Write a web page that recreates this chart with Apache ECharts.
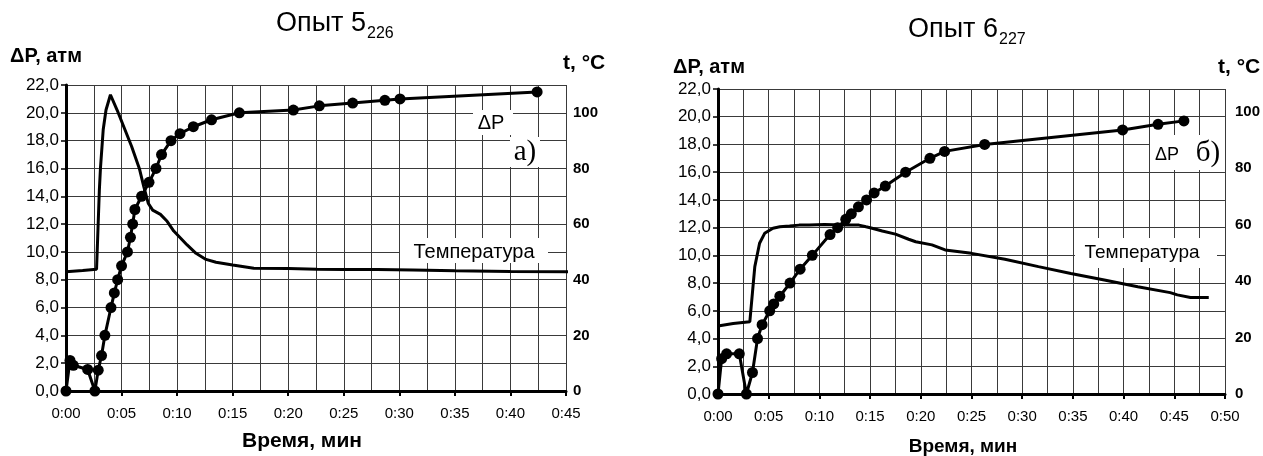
<!DOCTYPE html>
<html>
<head>
<meta charset="utf-8">
<script src="https://cdn.jsdelivr.net/npm/echarts@6/dist/echarts.min.js"></script>
<style>
html,body{margin:0;padding:0;background:#fff;}
#c{width:1263px;height:456px;}
</style>
</head>
<body>
<div id="c"></div>
<script>
// ---------- Panel a) Опыт 5(226) ----------
const p1Time = [0, 0.36, 0.66, 1.95, 2.6, 2.9, 3.2, 3.5, 4.05, 4.35, 4.65, 5.0, 5.53, 5.8, 6.0, 6.2, 6.8, 7.47, 8.1, 8.6, 9.45, 10.26, 11.46, 13.1, 15.6, 20.46, 22.8, 25.8, 28.7, 30.06, 42.4];
const p1DP   = [0, 2.2, 1.85, 1.55, 0, 1.5, 2.55, 4.0, 6.0, 7.05, 8.0, 9.0, 10.0, 11.05, 12.0, 13.05, 14.0, 15.0, 16.0, 17.0, 18.0, 18.5, 19.0, 19.5, 20.0, 20.2, 20.5, 20.7, 20.9, 21.0, 21.5];
const p1TempTime = [0, 1.5, 2.75, 2.85, 3.0, 3.1, 3.35, 3.6, 4.0, 4.15, 4.6, 5.2, 5.9, 6.6, 7.0, 7.4, 7.8, 8.5, 9.1, 9.7, 10.3, 10.9, 11.7, 12.6, 13.5, 15.0, 16.9, 20.0, 22.6, 25.0, 28.0, 31.2, 35.0, 40.0, 45.6];
const p1Temp     = [42.9, 43.3, 43.8, 55, 72, 80, 94, 101, 106.5, 106, 101, 95, 88, 80, 73.5, 67.5, 65, 63.5, 61, 57.5, 55, 52.5, 49.5, 47.3, 46.3, 45.3, 44.1, 44.0, 43.8, 43.7, 43.7, 43.5, 43.2, 43.0, 42.9];

// ---------- Panel б) Опыт 6(227) ----------
const p2Time = [0, 0.36, 0.85, 2.1, 2.8, 3.4, 3.9, 4.35, 5.1, 5.5, 6.1, 7.1, 8.1, 9.3, 11.05, 11.8, 12.6, 13.15, 13.85, 14.65, 15.4, 16.5, 18.5, 20.9, 22.35, 26.3, 39.9, 43.4, 45.95];
const p2DP   = [0, 2.55, 2.9, 2.9, 0, 1.55, 4.0, 5.0, 6.0, 6.5, 7.05, 8.0, 9.0, 10.0, 11.5, 12.0, 12.6, 13.0, 13.5, 14.0, 14.5, 15.0, 16.0, 17.0, 17.5, 18.0, 19.05, 19.45, 19.7];
const p2TempTime = [0, 1.5, 3.14, 3.4, 3.63, 4.1, 4.6, 5.42, 6.1, 7.06, 8.0, 9.0, 10.5, 12.3, 13.9, 14.6, 15.2, 16.2, 17.5, 18.8, 19.5, 21.1, 22.4, 25.0, 28.3, 31.6, 34.8, 38.1, 41.4, 44.6, 45.3, 46.6, 48.4];
const p2Temp     = [24.1, 25.0, 25.6, 36, 45.1, 53.4, 56.9, 58.7, 59.2, 59.5, 59.8, 59.8, 60.0, 59.8, 59.8, 59.2, 58.7, 57.7, 56.6, 54.8, 53.9, 52.8, 51.0, 49.8, 47.7, 45.1, 42.7, 40.4, 38.0, 35.9, 35.1, 34.2, 34.2];

// axis ranges / ticks
const p1XMax = 45, p2XMax = 50, xStep = 5;
const dpMax = 22, dpStep = 2;
const t1Max = 110, t2Max = 108, tStep = 20;

const zip = (a, b) => a.map((v, i) => [v, b[i]]);
const FONT = '"Liberation Sans", Arial, sans-serif';
const GRID_C = '#3a3a3a';

function xAxisCfg(idx, max) {
  return {
    type: 'value', gridIndex: idx, min: 0, max: max, interval: xStep,
    axisLine: {show: true, onZero: false, lineStyle: {color: '#000', width: 3}},
    axisTick: {show: true, length: 5, lineStyle: {color: '#000', width: 2}},
    axisLabel: {margin: 15, color: '#000', fontFamily: FONT, fontSize: 15,
      formatter: v => '0:' + String(Math.round(v)).padStart(2, '0')},
    splitLine: {show: true, lineStyle: {color: GRID_C, width: 1}},
    minorTick: {show: false, splitNumber: 2},
    minorSplitLine: {show: true, lineStyle: {color: GRID_C, width: 1}}
  };
}
function yLeftCfg(idx) {
  return {
    type: 'value', gridIndex: idx, min: 0, max: dpMax, interval: dpStep,
    axisLine: {show: true, onZero: false, lineStyle: {color: '#000', width: 3}},
    axisTick: {show: true, length: 5, lineStyle: {color: '#000', width: 1.5}},
    axisLabel: {margin: 7, color: '#000', fontFamily: FONT, fontSize: 17,
      formatter: v => v.toFixed(1).replace('.', ',')},
    splitLine: {show: true, lineStyle: {color: GRID_C, width: 1}}
  };
}
function yRightCfg(idx, max, margin) {
  return {
    type: 'value', gridIndex: idx, position: 'right', min: 0, max: max, interval: tStep,
    axisLine: {show: false}, axisTick: {show: false}, splitLine: {show: false},
    axisLabel: {margin: margin, color: '#000', fontFamily: FONT, fontSize: 15, fontWeight: 'bold',
      showMaxLabel: false}
  };
}
function dpSeries(xi, yi, data) {
  return {type: 'line', xAxisIndex: xi, yAxisIndex: yi, data: data,
    symbol: 'circle', symbolSize: 11, showSymbol: true,
    itemStyle: {color: '#000'}, lineStyle: {color: '#000', width: 3}, z: 5, animation: false};
}
function tSeries(xi, yi, data) {
  return {type: 'line', xAxisIndex: xi, yAxisIndex: yi, data: data,
    symbol: 'none', clip: false, lineStyle: {color: '#000', width: 3}, z: 4, animation: false};
}
function txt(text, x, y, size, opts) {
  opts = opts || {};
  return {type: 'text', z: 20, style: {
    text: text, x: x, y: y, fill: '#000', font: (opts.bold ? 'bold ' : '') + size + 'px ' + (opts.family || FONT),
    align: opts.align || 'left', verticalAlign: 'middle'}};
}
function box(x, y, w, h) {
  return {type: 'rect', z: 15, shape: {x: x, y: y, width: w, height: h}, style: {fill: '#fff'}};
}

const chart = echarts.init(document.getElementById('c'));
chart.setOption({
  animation: false,
  backgroundColor: '#fff',
  grid: [
    {left: 66, top: 85, width: 500, height: 306},
    {left: 718, top: 89, width: 510, height: 305}
  ],
  xAxis: [xAxisCfg(0, p1XMax), xAxisCfg(1, p2XMax)],
  yAxis: [yLeftCfg(0), yRightCfg(0, t1Max, 7), yLeftCfg(1), yRightCfg(1, t2Max, 10)],
  series: [
    dpSeries(0, 0, zip(p1Time, p1DP)),
    tSeries(0, 1, zip(p1TempTime, p1Temp)),
    dpSeries(1, 2, zip(p2Time, p2DP)),
    tSeries(1, 3, zip(p2TempTime, p2Temp))
  ],
  graphic: [
    // titles
    txt('Опыт 5', 366, 24, 27, {align: 'right'}),
    txt('226', 367, 34, 16),
    txt('Опыт 6', 998, 30, 27, {align: 'right'}),
    txt('227', 999, 40, 16),
    // axis names
    txt('ΔP, атм', 10, 56, 20, {bold: true}),
    txt('t, °C', 563, 63, 21, {bold: true}),
    txt('ΔP, атм', 673, 67, 20, {bold: true}),
    txt('t, °C', 1218, 67, 21, {bold: true}),
    txt('Время, мин', 302, 441, 21, {bold: true, align: 'center'}),
    txt('Время, мин', 963, 447, 19, {bold: true, align: 'center'}),
    // in-plot annotations panel a
    box(473, 110, 40, 25),
    txt('ΔP', 491, 123, 20, {align: 'center'}),
    box(510, 137, 30, 30),
    txt('а)', 525, 152, 29, {align: 'center', family: '"Liberation Serif", "Times New Roman", serif'}),
    box(400, 238, 148, 25),
    txt('Температура', 474, 252, 20, {align: 'center'}),
    // in-plot annotations panel б
    box(1150, 135, 75, 35),
    txt('ΔP', 1167, 155, 18, {align: 'center'}),
    txt('б)', 1208, 153, 29, {align: 'center', family: '"Liberation Serif", "Times New Roman", serif'}),
    box(1075, 238, 142, 30),
    txt('Температура', 1142, 253, 19, {align: 'center'})
  ]
});
</script>
</body>
</html>
